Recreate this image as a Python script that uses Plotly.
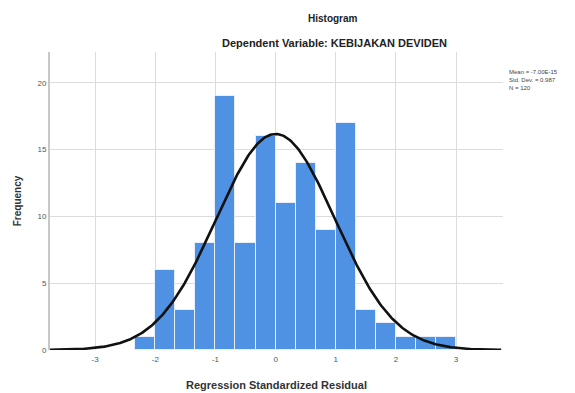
import numpy as np
import plotly.graph_objects as go

# Histogram bins (width 1/3, starting at -7/3) and frequencies
bin_start = -7/3
bin_width = 1/3
frequencies = [1, 6, 3, 8, 19, 8, 16, 11, 14, 9, 17, 3, 2, 1, 1, 1]

# Normal curve parameters from the legend
mean = -7.00e-15
std_dev = 0.987
n_obs = 120

x_ticks = [-3, -2, -1, 0, 1, 2, 3]
y_ticks = [0, 5, 10, 15, 20]

centers = [bin_start + bin_width * (i + 0.5) for i in range(len(frequencies))]

xs = np.linspace(-3.75, 3.75, 400)
ys = n_obs * bin_width / (std_dev * np.sqrt(2 * np.pi)) * np.exp(-0.5 * ((xs - mean) / std_dev) ** 2)

L, R, T, B = 50, 72, 52, 43
W, H = 575, 393
pw = W - L - R
ph = H - T - B


def px(x):
    return (x - L) / pw


def py(y_from_top):
    return (H - y_from_top - B) / ph


fig = go.Figure()
fig.add_trace(go.Bar(
    x=centers, y=frequencies, width=bin_width,
    marker=dict(color="#4f92e3", line=dict(color="#e8eef8", width=1)),
    showlegend=False,
))
fig.add_trace(go.Scatter(
    x=xs, y=ys, mode="lines",
    line=dict(color="#111111", width=2.6),
    showlegend=False, cliponaxis=False,
))

fig.update_layout(
    width=W, height=H,
    margin=dict(l=L, r=R, t=T, b=B),
    paper_bgcolor="white", plot_bgcolor="white",
    font=dict(family="Liberation Sans, Arial, sans-serif", color="#222"),
    bargap=0,
    xaxis=dict(
        range=[-3.75, 3.78], tickvals=x_ticks, ticktext=[str(v) for v in x_ticks],
        showgrid=True, gridcolor="#dcdcdc", gridwidth=1, zeroline=False,
        showline=False, ticks="", tickfont=dict(size=8, color="#555"),
        ticklabelstandoff=3,
        automargin=False,
        title=dict(text="<b>Regression Standardized Residual</b>", font=dict(size=11, color="#333"), standoff=18),
    ),
    yaxis=dict(
        range=[0, 22.3], tickvals=y_ticks,
        showgrid=True, gridcolor="#dcdcdc", gridwidth=1, zeroline=False,
        showline=True, linecolor="#c8c8c8", linewidth=2, ticks="",
        tickfont=dict(size=8, color="#555"),
        automargin=False,
        title=dict(text="<b>Frequency</b>", font=dict(size=10, color="#333"), standoff=14),
    ),
    annotations=[
        dict(text="<b>Histogram</b>", x=px(333), y=py(18), xref="paper", yref="paper",
             showarrow=False, yanchor="middle", font=dict(size=10, color="#222")),
        dict(text="<b>Dependent Variable: KEBIJAKAN DEVIDEN</b>", x=px(334), y=py(43),
             xref="paper", yref="paper", showarrow=False, yanchor="middle",
             font=dict(size=11, color="#222")),
        dict(text="Mean = -7.00E-15<br>Std. Dev. = 0.987<br>N = 120", x=px(507), y=py(80),
             xref="paper", yref="paper", showarrow=False, align="left", xanchor="left",
             yanchor="middle", font=dict(size=6, color="#444")),
    ],
)

fig.write_html(
    "out.html",
    config={"displayModeBar": False},
    post_script="document.body.style.margin='0';document.body.style.overflow='hidden';",
)
